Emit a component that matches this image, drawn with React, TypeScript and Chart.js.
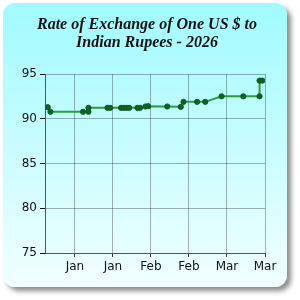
import React, { useEffect, useRef } from "react";
import { Chart, registerables } from "chart.js";

Chart.register(...registerables);

const titleLines = ["Rate of Exchange of One US $ to", "Indian Rupees - 2026"];

const dates = [
  "2026-01-02", "2026-01-03", "2026-01-15", "2026-01-17", "2026-01-17",
  "2026-01-24", "2026-01-25", "2026-01-29", "2026-01-30", "2026-01-31",
  "2026-02-01", "2026-02-04", "2026-02-05", "2026-02-07", "2026-02-08",
  "2026-02-15", "2026-02-20", "2026-02-21", "2026-02-26", "2026-03-01",
  "2026-03-07", "2026-03-15", "2026-03-21", "2026-03-21", "2026-03-22",
];

const rates = [
  91.29, 90.78, 90.78, 90.78, 91.22,
  91.22, 91.22, 91.22, 91.22, 91.22,
  91.22, 91.22, 91.22, 91.37, 91.4,
  91.37, 91.33, 91.89, 91.89, 91.89,
  92.51, 92.51, 92.51, 94.26, 94.26,
];

const tickDates = ["2026-01-12", "2026-01-26", "2026-02-09", "2026-02-23", "2026-03-09", "2026-03-23"];
const axisStart = "2026-01-01";
const axisEnd = "2026-03-23";
const monthNames = ["Jan", "Feb", "Mar", "Apr", "May", "Jun", "Jul", "Aug", "Sep", "Oct", "Nov", "Dec"];

const yMin = 75;
const yMax = 95;
const yStep = 5;

const DAY = 86400000;
const base = Date.parse(axisStart + "T00:00:00Z");
const toDay = (s: string) => (Date.parse(s + "T00:00:00Z") - base) / DAY;
const dayToMonth = (d: number) => monthNames[new Date(base + d * DAY).getUTCMonth()];

export default function App() {
  const ref = useRef<HTMLCanvasElement | null>(null);

  useEffect(() => {
    if (!ref.current) return;
    const points = dates.map((d, i) => ({ x: toDay(d), y: rates[i] }));
    const tickVals = tickDates.map(toDay);
    const chart = new Chart(ref.current, {
      type: "line",
      data: {
        datasets: [
          {
            data: points,
            borderColor: "#2f9a40",
            borderWidth: 2,
            pointBackgroundColor: "#0b6424",
            pointBorderColor: "#0b5a20",
            pointBorderWidth: 1,
            pointRadius: 2.6,
            tension: 0,
          },
        ],
      },
      options: {
        responsive: false,
        animation: false,
        layout: { padding: { left: 0, right: 6, top: 0, bottom: 0 } },
        plugins: {
          legend: { display: false },
          tooltip: { enabled: false },
          title: {
            display: true,
            text: titleLines,
            color: "#111",
            font: { family: "'Liberation Serif', serif", size: 16, weight: "bold", style: "italic", lineHeight: 1.125 },
            padding: { top: 16, bottom: 22 },
          },
        },
        scales: {
          x: {
            type: "linear",
            min: toDay(axisStart),
            max: toDay(axisEnd),
            afterBuildTicks: (scale: any) => {
              scale.ticks = tickVals.map((v) => ({ value: v }));
            },
            afterFit: (scale: any) => {
              scale.height = 47;
            },
            ticks: {
              color: "#111",
              font: { family: "'DejaVu Sans', sans-serif", size: 12 },
              padding: 3,
              maxRotation: 0,
              autoSkip: false,
              callback: (v: any) => dayToMonth(Number(v)),
            },
            grid: { color: "rgba(0,0,0,0.3)", tickColor: "#333", tickLength: 4 },
            border: { color: "#555" },
          },
          y: {
            min: yMin,
            max: yMax,
            afterFit: (scale: any) => {
              scale.width = 45;
            },
            ticks: {
              stepSize: yStep,
              color: "#111",
              font: { family: "'DejaVu Sans', sans-serif", size: 12 },
              padding: 3,
            },
            grid: { color: "rgba(0,0,0,0.3)", tickColor: "#111", tickLength: 5 },
            border: { color: "#555" },
          },
          yRight: {
            type: "linear",
            position: "right",
            min: yMin,
            max: yMax,
            display: true,
            ticks: { display: false },
            grid: { display: false, drawTicks: false },
            border: { display: false },
            afterFit: (scale: any) => {
              scale.width = 29;
            },
          },
        },
      },
    });
    return () => chart.destroy();
  }, []);

  return (
    <div style={{ position: "fixed", left: 0, top: 0, width: 300, height: 300, background: "#fff" }}>
      <div
        style={{
          position: "absolute",
          left: 3,
          top: 3,
          width: 284,
          height: 284,
          borderRadius: 12,
          background: "linear-gradient(to bottom, #a0fbff 0%, #c8fcff 50%, #f2ffff 100%)",
          boxShadow: "4px 4px 5px rgba(0,0,0,0.45)",
        }}
      />
      <canvas ref={ref} width={300} height={300} style={{ position: "absolute", left: 0, top: 0 }} />
    </div>
  );
}
